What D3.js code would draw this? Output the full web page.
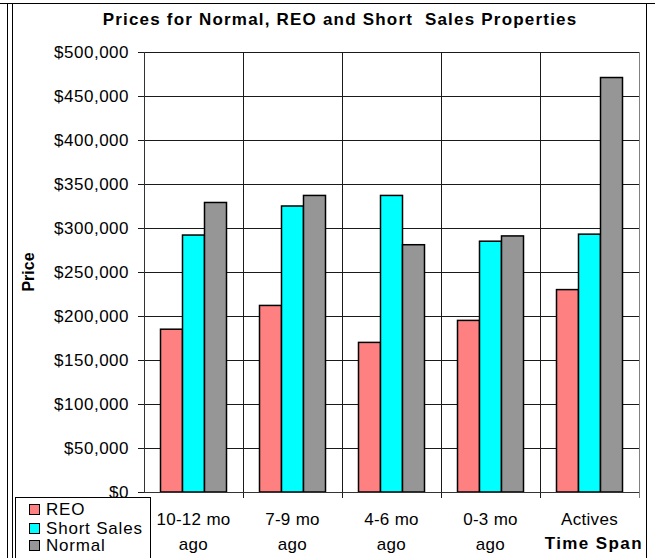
<!DOCTYPE html>
<html>
<head>
<meta charset="utf-8">
<script src="https://cdn.jsdelivr.net/npm/d3@7"></script>
<style>
  body { margin: 0; background: #fff; }
  svg text { font-family: Arial, "Liberation Sans", sans-serif; fill: #000; }
</style>
</head>
<body>
<div id="chart"></div>
<script>
// data
const categories = ["10-12 mo ago", "7-9 mo ago", "4-6 mo ago", "0-3 mo ago", "Actives"];
const catLines = [["10-12 mo", "ago"], ["7-9 mo", "ago"], ["4-6 mo", "ago"], ["0-3 mo", "ago"], ["Actives"]];
const seriesNames = ["REO", "Short Sales", "Normal"];
const reo = [185000, 212000, 170000, 195000, 230000];
const shortSales = [292000, 325000, 337000, 285000, 293000];
const normal = [329000, 337000, 281000, 291000, 471000];
const yTicks = [0, 50000, 100000, 150000, 200000, 250000, 300000, 350000, 400000, 450000, 500000];
const colors = ["#FF8080", "#00FFFF", "#969696"];

const width = 655, height = 558;
const plot = {left: 144, right: 639, top: 52, bottom: 492};

const svg = d3.select("#chart").append("svg")
    .attr("width", width)
    .attr("height", height)
    .attr("shape-rendering", "crispEdges");

// outer frame (double line on the left)
svg.append("line").attr("x1", 0).attr("x2", width).attr("y1", 3.5).attr("y2", 3.5).attr("stroke", "#000");
svg.append("line").attr("x1", 7.5).attr("x2", 7.5).attr("y1", 3).attr("y2", height).attr("stroke", "#000");
svg.append("rect")
    .attr("x", 12.5).attr("y", 3.5)
    .attr("width", 634).attr("height", height + 10)
    .attr("fill", "none").attr("stroke", "#000");

const x0 = d3.scaleBand()
    .domain(categories)
    .range([plot.left, plot.right]);

const x1 = d3.scaleBand()
    .domain(seriesNames)
    .range([x0.bandwidth() / 6, x0.bandwidth() * 5 / 6]);

const y = d3.scaleLinear()
    .domain([0, 500000])
    .range([plot.bottom, plot.top]);

// horizontal gridlines + ticks
svg.append("g").selectAll("line")
    .data(yTicks)
    .enter()
    .append("line")
    .attr("x1", plot.left - 6)
    .attr("x2", plot.right)
    .attr("y1", d => Math.round(y(d)) + 0.5)
    .attr("y2", d => Math.round(y(d)) + 0.5)
    .attr("stroke", "#1a1a1a");

// vertical category gridlines
const bounds = categories.slice(1).map(c => x0(c));
svg.append("g").selectAll("line")
    .data(bounds)
    .enter()
    .append("line")
    .attr("x1", d => Math.round(d) + 0.5)
    .attr("x2", d => Math.round(d) + 0.5)
    .attr("y1", plot.top)
    .attr("y2", plot.bottom + 6)
    .attr("stroke", "#1a1a1a");

// plot right edge
svg.append("line")
    .attr("x1", plot.right + 0.5).attr("x2", plot.right + 0.5)
    .attr("y1", plot.top).attr("y2", plot.bottom + 6)
    .attr("stroke", "#808080");

// bars
const rows = categories.map((c, i) => ({cat: c, values: [reo[i], shortSales[i], normal[i]]}));
const groups = svg.append("g").selectAll("g")
    .data(rows)
    .enter()
    .append("g")
    .attr("transform", d => `translate(${x0(d.cat)},0)`);

groups.selectAll("rect")
    .data(d => d.values.map((v, j) => ({name: seriesNames[j], value: v, color: colors[j]})))
    .enter()
    .append("rect")
    .attr("x", d => x1(d.name))
    .attr("width", x1.bandwidth())
    .attr("y", d => y(d.value))
    .attr("height", d => y(0) - y(d.value))
    .attr("fill", d => d.color)
    .attr("stroke", "#000")
    .attr("stroke-width", 1.5)
    .attr("shape-rendering", "geometricPrecision");

// axes lines
svg.append("line")
    .attr("x1", plot.left + 0.5).attr("x2", plot.left + 0.5)
    .attr("y1", plot.top).attr("y2", plot.bottom + 1)
    .attr("stroke", "#333");
svg.append("line")
    .attr("x1", plot.left).attr("x2", plot.right)
    .attr("y1", plot.bottom + 0.5).attr("y2", plot.bottom + 0.5)
    .attr("stroke", "#333");

// y tick labels
const fmt = d3.format(",");
svg.append("g").selectAll("text")
    .data(yTicks)
    .enter()
    .append("text")
    .attr("x", 129)
    .attr("y", d => y(d))
    .attr("dy", "0.36em")
    .attr("text-anchor", "end")
    .style("font-size", "17px")
    .style("letter-spacing", "0.5px")
    .text(d => "$" + fmt(d));

// category labels
const catText = svg.append("g").selectAll("text")
    .data(catLines)
    .enter()
    .append("text")
    .attr("text-anchor", "middle")
    .style("font-size", "17px")
    .style("letter-spacing", "0.3px");
catText.selectAll("tspan")
    .data((d, i) => d.map(t => ({t: t, cx: x0(categories[i]) + x0.bandwidth() / 2})))
    .enter()
    .append("tspan")
    .attr("x", d => d.cx)
    .attr("y", (d, k) => 525 + k * 25)
    .text(d => d.t);

// axis titles
svg.append("text")
    .attr("x", 643)
    .attr("y", 549)
    .attr("text-anchor", "end")
    .style("font-size", "17px")
    .style("font-weight", "bold")
    .style("letter-spacing", "1.4px")
    .text("Time Span");

svg.append("text")
    .attr("transform", "translate(34,272) rotate(-90)")
    .attr("text-anchor", "middle")
    .style("font-size", "16px")
    .style("font-weight", "bold")
    .text("Price");

// chart title
svg.append("text")
    .attr("x", 340)
    .attr("y", 25)
    .attr("text-anchor", "middle")
    .style("font-size", "17px")
    .style("font-weight", "bold")
    .style("letter-spacing", "1.2px")
    .style("white-space", "pre")
    .text("Prices for Normal, REO and Short  Sales Properties");

// legend
const legend = svg.append("g");
legend.append("rect")
    .attr("x", 15.5).attr("y", 497.5)
    .attr("width", 135).attr("height", 80)
    .attr("fill", "#fff").attr("stroke", "#000");

const legendBaselines = [515, 534, 551];
const items = legend.selectAll("g")
    .data(seriesNames)
    .enter()
    .append("g");
items.append("rect")
    .attr("x", 29.5)
    .attr("y", (d, i) => legendBaselines[i] - 10.5)
    .attr("width", 10)
    .attr("height", 10)
    .attr("fill", (d, i) => colors[i])
    .attr("stroke", "#000");
items.append("text")
    .attr("x", 46)
    .attr("y", (d, i) => legendBaselines[i])
    .style("font-size", "17px")
    .style("letter-spacing", "0.8px")
    .text(d => d);
</script>
</body>
</html>
